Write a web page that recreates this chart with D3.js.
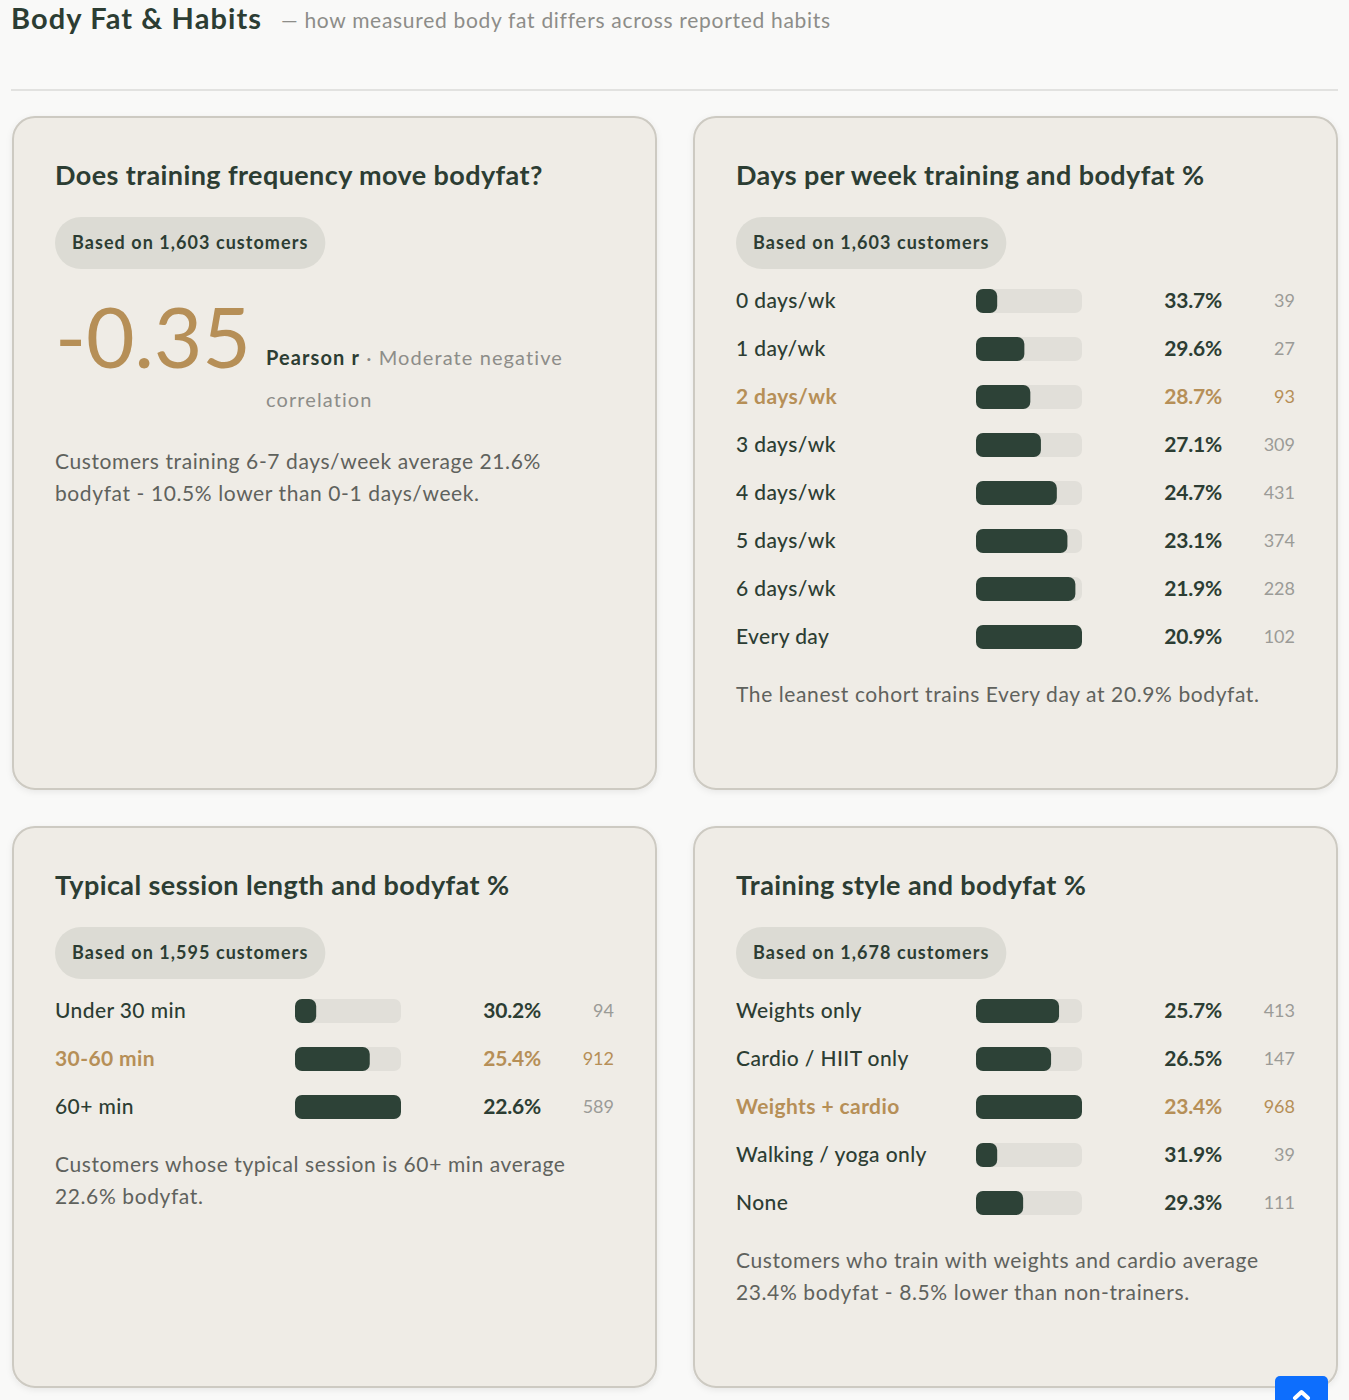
<!DOCTYPE html>
<html>
<head>
<meta charset="utf-8">
<script src="https://cdn.jsdelivr.net/npm/d3@7"></script>
<style>
  html, body { margin: 0; padding: 0; background: #f9f9f8; }
  svg { display: block; font-family: Lato, "Noto Sans", sans-serif; }
</style>
</head>
<body>
<svg id="chart"></svg>
<script>
// --- data ---
const daysLabels = ["0 days/wk", "1 day/wk", "2 days/wk", "3 days/wk", "4 days/wk", "5 days/wk", "6 days/wk", "Every day"];
const daysBodyfat = [33.7, 29.6, 28.7, 27.1, 24.7, 23.1, 21.9, 20.9];
const daysCounts = [39, 27, 93, 309, 431, 374, 228, 102];
const daysHighlight = "2 days/wk";

const sessionLabels = ["Under 30 min", "30-60 min", "60+ min"];
const sessionBodyfat = [30.2, 25.4, 22.6];
const sessionCounts = [94, 912, 589];
const sessionHighlight = "30-60 min";

const styleLabels = ["Weights only", "Cardio / HIIT only", "Weights + cardio", "Walking / yoga only", "None"];
const styleBodyfat = [25.7, 26.5, 23.4, 31.9, 29.3];
const styleCounts = [413, 147, 968, 39, 111];
const styleHighlight = "Weights + cardio";

const pearsonR = -0.35;
const customerCounts = [1603, 1603, 1595, 1678];

const ink = "#2c3d33", gold = "#b68f57", grey = "#5f625d", light = "#9b9b97";

const svg = d3.select("#chart").attr("width", 1349).attr("height", 1400);

const defs = svg.append("defs");
defs.append("filter").attr("id", "shadow")
  .attr("x", "-5%").attr("y", "-5%").attr("width", "110%").attr("height", "112%")
  .append("feDropShadow")
  .attr("dx", 0).attr("dy", 2).attr("stdDeviation", 3)
  .attr("flood-color", "#000").attr("flood-opacity", 0.07);

// page header
svg.append("text").attr("x", 11).attr("y", 29)
  .attr("font-size", 29).attr("font-weight", 700).attr("fill", ink).attr("letter-spacing", 1.1)
  .text("Body Fat & Habits");
svg.append("text").attr("x", 281).attr("y", 28)
  .attr("font-size", 21).attr("fill", "#8d8d89").attr("letter-spacing", 0.7)
  .text("— how measured body fat differs across reported habits");
svg.append("line").attr("x1", 11).attr("x2", 1338).attr("y1", 90).attr("y2", 90)
  .attr("stroke", "#e2e2e0").attr("stroke-width", 2);

function card(x, y, h, title, n) {
  const g = svg.append("g").attr("transform", `translate(${x},${y})`);
  g.append("rect").attr("x", 1).attr("y", 1).attr("width", 643).attr("height", h - 2)
    .attr("rx", 22).attr("fill", "#efece6").attr("stroke", "#cdcac2").attr("stroke-width", 2)
    .attr("filter", "url(#shadow)");
  g.append("text").attr("x", 43).attr("y", 69)
    .attr("font-size", 27).attr("font-weight", 700).attr("fill", ink).attr("letter-spacing", 0.4)
    .text(title);
  const pill = g.append("g");
  const pr = pill.append("rect").attr("x", 43).attr("y", 101).attr("height", 52).attr("rx", 26)
    .attr("fill", "#dcdbd4");
  const pt = pill.append("text").attr("x", 60).attr("y", 127).attr("dy", "0.35em")
    .attr("font-size", 18).attr("font-weight", 700).attr("fill", ink).attr("letter-spacing", 1.05)
    .text(`Based on ${d3.format(",")(n)} customers`);
  pr.attr("width", pt.node().getComputedTextLength() + 34);
  return g;
}

function note(g, y, lines) {
  g.append("text").attr("font-size", 21).attr("fill", grey).attr("letter-spacing", 0.6)
    .selectAll("tspan").data(lines).join("tspan")
    .attr("x", 43).attr("y", (d, i) => y + i * 32).attr("dy", "0.35em")
    .text(d => d);
}

function bars(g, labels, values, counts, highlight, lines) {
  const trackW = 106;
  const y = d3.scaleBand().domain(labels).range([161, 161 + 48 * labels.length]);
  const x = d3.scaleLinear().domain([d3.max(values), d3.min(values)]).range([trackW * 0.2, trackW]);
  const rows = g.selectAll("g.row").data(labels.map((l, i) => ({ l, v: values[i], n: counts[i] })))
    .join("g").attr("class", "row")
    .attr("transform", d => `translate(0,${y(d.l) + y.bandwidth() / 2})`);
  rows.append("text").attr("x", 43).attr("dy", "0.35em")
    .attr("font-size", 21).attr("letter-spacing", 0.4)
    .attr("fill", d => d.l === highlight ? gold : ink)
    .attr("font-weight", d => d.l === highlight ? 700 : 500)
    .text(d => d.l);
  rows.append("rect").attr("x", 283).attr("y", -12).attr("height", 24).attr("rx", 7)
    .attr("width", trackW).attr("fill", "#e1dfd9");
  rows.append("rect").attr("x", 283).attr("y", -12).attr("height", 24).attr("rx", 7)
    .attr("width", d => x(d.v)).attr("fill", "#2d4237");
  rows.append("text").attr("x", 529).attr("dy", "0.35em").attr("text-anchor", "end")
    .attr("font-size", 21).attr("font-weight", 700).attr("letter-spacing", -0.2)
    .attr("fill", d => d.l === highlight ? gold : ink)
    .text(d => d.v.toFixed(1) + "%");
  rows.append("text").attr("x", 602).attr("dy", "0.35em").attr("text-anchor", "end")
    .attr("font-size", 18)
    .attr("fill", d => d.l === highlight ? gold : light)
    .text(d => d.n);
  note(g, 161 + 48 * (labels.length - 1) + 24 + 58, lines);
}

// card 1: correlation
const c1 = card(12, 116, 674, "Does training frequency move bodyfat?", customerCounts[0]);
c1.append("text").attr("x", 43).attr("y", 252)
  .attr("font-size", 84).attr("font-weight", 400).attr("fill", gold).attr("letter-spacing", -0.3)
  .text(d3.formatLocale({ decimal: ".", thousands: ",", grouping: [3], currency: ["", ""], minus: "-" })
    .format(".2f")(pearsonR));
const pl = c1.append("text").attr("x", 254).attr("y", 249).attr("font-size", 20).attr("letter-spacing", 1.1);
pl.append("tspan").attr("font-weight", 700).attr("fill", ink).text("Pearson r");
pl.append("tspan").attr("fill", "#8d8d89").text(" · Moderate negative");
c1.append("text").attr("x", 254).attr("y", 291).attr("font-size", 20).attr("fill", "#8d8d89").attr("letter-spacing", 1.1)
  .text("correlation");
note(c1, 346, ["Customers training 6-7 days/week average 21.6%", "bodyfat - 10.5% lower than 0-1 days/week."]);

// card 2: days per week
const c2 = card(693, 116, 674, "Days per week training and bodyfat %", customerCounts[1]);
bars(c2, daysLabels, daysBodyfat, daysCounts, daysHighlight,
  ["The leanest cohort trains Every day at 20.9% bodyfat."]);

// card 3: session length
const c3 = card(12, 826, 562, "Typical session length and bodyfat %", customerCounts[2]);
bars(c3, sessionLabels, sessionBodyfat, sessionCounts, sessionHighlight,
  ["Customers whose typical session is 60+ min average", "22.6% bodyfat."]);

// card 4: training style
const c4 = card(693, 826, 562, "Training style and bodyfat %", customerCounts[3]);
bars(c4, styleLabels, styleBodyfat, styleCounts, styleHighlight,
  ["Customers who train with weights and cardio average", "23.4% bodyfat - 8.5% lower than non-trainers."]);

// back-to-top button peeking at the bottom
const btn = svg.append("g").attr("transform", "translate(1275,1376)");
btn.append("rect").attr("width", 53).attr("height", 40).attr("rx", 5).attr("fill", "#0d6efd");
btn.append("path").attr("d", "M20,22 L26.5,16 L33,22").attr("fill", "none")
  .attr("stroke", "#fff").attr("stroke-width", 4).attr("stroke-linecap", "round").attr("stroke-linejoin", "round");
</script>
</body>
</html>
